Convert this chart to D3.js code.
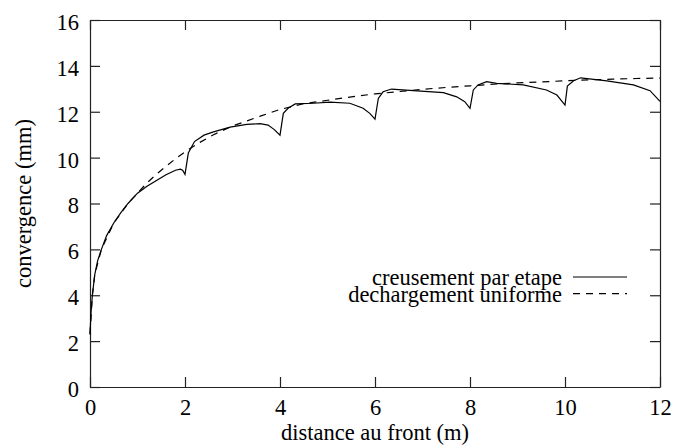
<!DOCTYPE html>
<html>
<head>
<meta charset="utf-8">
<title>convergence</title>
<script src="https://d3js.org/d3.v7.min.js"></script>
<style>
  body { margin: 0; background: #fff; }
  svg text { font-family: "Liberation Serif", "Times New Roman", serif; }
</style>
</head>
<body>
<div id="chart"></div>
<script>
// courbe "creusement par etape" (x en m, y en mm)
var etapeX = [0, 0.02, 0.05, 0.1, 0.16, 0.24, 0.35, 0.5, 0.65, 0.8, 1.0, 1.2, 1.4, 1.6, 1.8, 1.9, 1.95, 2.0,
  2.07, 2.2, 2.4, 2.6, 2.95, 3.3, 3.58, 3.75, 3.88, 4.0,
  4.07, 4.17, 4.32, 4.7, 5.05, 5.47, 5.75, 5.89, 6.0,
  6.07, 6.17, 6.35, 6.81, 7.44, 7.72, 7.89, 8.0,
  8.07, 8.17, 8.35, 8.56, 9.12, 9.61, 9.83, 10.0,
  10.05, 10.18, 10.33, 10.88, 11.44, 11.79, 12.0];
var etapeY = [2.3, 3.2, 4.0, 4.9, 5.5, 6.0, 6.6, 7.15, 7.6, 8.0, 8.45, 8.75, 9.0, 9.25, 9.45, 9.5, 9.45, 9.27,
  10.2, 10.7, 10.98, 11.12, 11.33, 11.45, 11.48, 11.42, 11.22, 10.98,
  11.93, 12.15, 12.34, 12.37, 12.42, 12.37, 12.15, 11.93, 11.68,
  12.58, 12.87, 12.99, 12.92, 12.83, 12.65, 12.44, 12.15,
  12.95, 13.17, 13.31, 13.24, 13.17, 12.95, 12.73, 12.29,
  13.12, 13.35, 13.48, 13.35, 13.17, 12.92, 12.45];

// courbe "dechargement uniforme"
var uniformeX = [0, 0.05, 0.1, 0.24, 0.5, 0.8, 1.0, 1.2, 1.4, 1.6, 1.8, 2.0, 2.3, 2.6, 3.0, 3.3, 3.6, 4.0,
  4.5, 5.0, 5.4, 6.0, 6.5, 7.0, 7.5, 8.0, 8.5, 9.0, 9.5, 10.0, 10.5, 11.0, 11.5, 12.0];
var uniformeY = [2.3, 4.0, 4.9, 6.0, 7.15, 8.0, 8.45, 8.9, 9.28, 9.62, 9.95, 10.25, 10.65, 11.0, 11.38, 11.6, 11.82, 12.1,
  12.35, 12.5, 12.62, 12.78, 12.88, 12.98, 13.06, 13.13, 13.2, 13.26, 13.3, 13.35, 13.39, 13.42, 13.45, 13.47];

var xTicks = [0, 2, 4, 6, 8, 10, 12];
var yTicks = [0, 2, 4, 6, 8, 10, 12, 14, 16];
var legendLabels = ["creusement par etape", "dechargement uniforme"];

var W = 674, H = 445;
var margin = {top: 20, right: 14, bottom: 58, left: 90};
var width = W - margin.left - margin.right,
    height = H - margin.top - margin.bottom;
var fs = "22.5px";

var svg = d3.select("#chart").append("svg")
  .attr("width", W)
  .attr("height", H);

var g = svg.append("g")
  .attr("transform", "translate(" + margin.left + "," + margin.top + ")");

var x = d3.scaleLinear().domain([0, 12]).range([0, width]);
var y = d3.scaleLinear().domain([0, 16]).range([height, 0]);

// axes (ticks vers l'interieur, sur les 4 cotes)
function styleAxis(sel) {
  sel.attr("font-family", null).attr("font-size", null);
  sel.selectAll("path").attr("stroke", "#222").attr("stroke-width", 1.2);
  sel.selectAll("line").attr("stroke", "#222").attr("stroke-width", 1.2);
  sel.selectAll("text").attr("fill", "#000").style("font-size", fs);
}

g.append("g")
  .attr("transform", "translate(0," + height + ")")
  .call(d3.axisBottom(x).tickValues(xTicks).tickSizeInner(-10).tickSizeOuter(0).tickPadding(12))
  .call(styleAxis);

g.append("g")
  .call(d3.axisTop(x).tickValues(xTicks).tickSizeInner(-10).tickSizeOuter(0).tickFormat(""))
  .call(styleAxis);

g.append("g")
  .call(d3.axisLeft(y).tickValues(yTicks).tickSizeInner(-10).tickSizeOuter(0).tickPadding(11))
  .call(styleAxis)
  .selectAll("text").attr("dy", "0.42em");

g.append("g")
  .attr("transform", "translate(" + width + ",0)")
  .call(d3.axisRight(y).tickValues(yTicks).tickSizeInner(-10).tickSizeOuter(0).tickFormat(""))
  .call(styleAxis);

// titres des axes
svg.append("text")
  .attr("x", margin.left + width / 2)
  .attr("y", 440)
  .attr("text-anchor", "middle")
  .style("font-size", fs)
  .text("distance au front (m)");

svg.append("text")
  .attr("transform", "translate(31," + (margin.top + height / 2) + ") rotate(-90)")
  .attr("text-anchor", "middle")
  .style("font-size", fs)
  .text("convergence (mm)");

// courbes
var line = d3.line()
  .x(function(d) { return x(d[0]); })
  .y(function(d) { return y(d[1]); });

var etape = d3.zip(etapeX, etapeY);
var uniforme = d3.zip(uniformeX, uniformeY);

g.append("path")
  .datum(uniforme)
  .attr("d", line)
  .attr("fill", "none")
  .attr("stroke", "#000")
  .attr("stroke-width", 1.2)
  .attr("stroke-dasharray", "7,6");

g.append("path")
  .datum(etape)
  .attr("d", line)
  .attr("fill", "none")
  .attr("stroke", "#000")
  .attr("stroke-width", 1.2);

// legende
var legend = svg.append("g").attr("transform", "translate(562,277)");
legendLabels.forEach(function(lab, i) {
  var row = legend.append("g").attr("transform", "translate(0," + (i * 16.7) + ")");
  row.append("text")
    .attr("x", 0)
    .attr("y", 8)
    .attr("text-anchor", "end")
    .style("font-size", fs)
    .text(lab);
  row.append("line")
    .attr("x1", 11).attr("x2", 65)
    .attr("y1", 0).attr("y2", 0)
    .attr("stroke", "#000")
    .attr("stroke-width", 1.2)
    .attr("stroke-dasharray", i === 1 ? "7,6" : null);
});
</script>
</body>
</html>
